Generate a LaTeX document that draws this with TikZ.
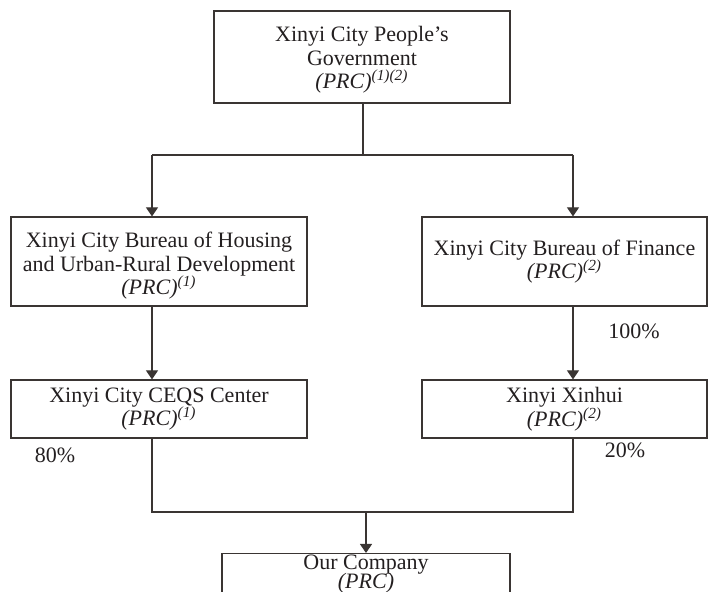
\documentclass[tikz,border=0pt]{standalone}
\usepackage{fontspec}
\setmainfont{Liberation Serif}
\usetikzlibrary{arrows.meta}
\definecolor{ln}{HTML}{3A3533}
\definecolor{tx}{HTML}{231F20}
\tikzset{
  box/.style={draw=ln, line width=0.6pt, align=center, inner sep=0pt, text=tx, font=\fontsize{11}{11.8}\selectfont},
  conn/.style={draw=ln, line width=0.6pt},
  arr/.style={conn, -{Triangle[length=4.5pt,width=6pt]}},
  pct/.style={text=tx, font=\fontsize{11}{11.8}\selectfont, inner sep=0pt}
}
\newcommand{\prc}[1]{\textit{(PRC)}\textsuperscript{\textit{#1}}}
\begin{document}
\begin{tikzpicture}[x=0.5pt,y=-0.5pt]
\useasboundingbox (0,0) rectangle (708,592);
\node[box, minimum width=148pt, minimum height=46pt] (gov) at (362,57) {\rule{0pt}{10.5pt}Xinyi City People's\\Government\\\prc{(1)(2)}};
\node[box, minimum width=148pt, minimum height=44.5pt] (hb) at (159,261.5) {\rule{0pt}{12pt}Xinyi City Bureau of Housing\\and Urban-Rural Development\\\prc{(1)}};
\node[box, minimum width=142.5pt, minimum height=44.5pt] (fb) at (564.5,261.5) {Xinyi City Bureau of Finance\\\prc{(2)}};
\node[box, minimum width=148pt, minimum height=29pt] (ceqs) at (159,409) {Xinyi City CEQS Center\\\prc{(1)}};
\node[box, minimum width=142.5pt, minimum height=29pt] (xh) at (564.5,409) {Xinyi Xinhui\\\prc{(2)}};
\node[box, minimum width=144pt, inner ysep=0pt, anchor=north] (co) at (366,553) {\rule{0pt}{8pt}Our Company\\[-2.3pt]\textit{(PRC)}\\[8pt]};
% connectors
\coordinate (jt) at (363,155);
\coordinate (jl) at (152,155);
\coordinate (jr) at (573,155);
\draw[conn] (gov.south -| jt) -- (jt);
\draw[conn] (jl) -- (jr);
\draw[arr] (jl) -- (jl |- hb.north);
\draw[arr] (jr) -- (jr |- fb.north);
\draw[arr] (jl |- hb.south) -- (jl |- ceqs.north);
\draw[arr] (jr |- fb.south) -- (jr |- xh.north);
\coordinate (bl) at (152,512);
\coordinate (br) at (573,512);
\coordinate (bm) at (366,512);
\draw[conn] (bl |- ceqs.south) -- (bl) -- (br) -- (br |- xh.south);
\draw[arr] (bm) -- (co.north);
% labels
\node[pct] (p100) at (634,331) {100\%};
\node[pct] (p80) at (55,455) {80\%};
\node[pct] (p20) at (625,450) {20\%};
\end{tikzpicture}
\end{document}
